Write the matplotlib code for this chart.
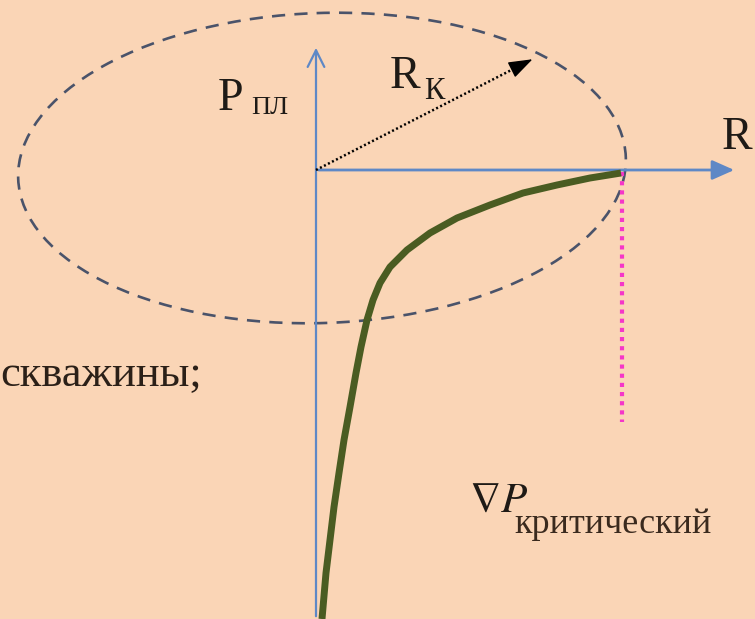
import matplotlib
matplotlib.use("Agg")
import matplotlib.pyplot as plt
from matplotlib.patches import Ellipse, FancyArrowPatch

plt.rcParams["mathtext.fontset"] = "stix"

# picture coordinates (pixels, y grows downward)
origin = (316, 170)
r_axis_end = 737
p_axis_top = 45
p_axis_bottom = 619

ellipse_center = (322, 168)
ellipse_width = 608
ellipse_height = 310

radius_tip = (535, 58)

# pressure curve (depression funnel)
curve_r = [621, 590, 557, 523, 490, 457, 430, 407, 390, 380, 373, 367, 361,
           356, 350, 344, 339, 334, 330, 326, 322]
curve_p = [173, 178, 185, 193, 205, 218, 233, 250, 267, 283, 300, 320, 347,
           373, 407, 440, 473, 507, 540, 573, 619]

crit_r = 622
crit_p = [172, 422]

BG = "#FAD5B6"
AXIS = "#5E88C6"
SERIF = ["Liberation Serif", "DejaVu Serif"]
INK = "#1E1A16"

fig = plt.figure(figsize=(7.55, 6.19), dpi=100)
fig.patch.set_facecolor(BG)
ax = fig.add_axes([0, 0, 1, 1])
ax.set_facecolor(BG)
ax.set_xlim(0, 755)
ax.set_ylim(619, 0)
ax.axis("off")

ax.add_patch(Ellipse(ellipse_center, ellipse_width, ellipse_height, angle=-2,
                     fill=False, edgecolor="#4A536A", lw=1.9, linestyle=(0, (5, 3.5))))

# axes
ax.add_patch(FancyArrowPatch((origin[0], p_axis_bottom), (origin[0], p_axis_top),
                             arrowstyle="->,head_length=8,head_width=4", color=AXIS,
                             lw=1.6, mutation_scale=1.5))
ax.add_patch(FancyArrowPatch(origin, (r_axis_end, origin[1]),
                             arrowstyle="-|>,head_length=9,head_width=4", color=AXIS,
                             lw=2.0, mutation_scale=1.5))

# radius arrow (dotted shaft, small head)
ax.plot([origin[0], radius_tip[0] - 8], [origin[1], radius_tip[1] + 4],
        color="black", lw=1.8, linestyle=(0, (0.8, 1.0)))
ax.add_patch(FancyArrowPatch((radius_tip[0] - 20, radius_tip[1] + 10), radius_tip,
                             arrowstyle="-|>,head_length=10,head_width=3.5",
                             color="black", lw=1.0, mutation_scale=1.5))

ax.plot([crit_r, crit_r], crit_p, color="#F536C8", lw=3, linestyle=(0, (1, 1.2)))
ax.plot(curve_r, curve_p, color="#4A5C22", lw=5, solid_capstyle="butt",
        solid_joinstyle="round")

ax.text(218, 110, "P", fontsize=33, family=SERIF, color=INK)
ax.text(251, 114, "ПЛ", fontsize=19, family=SERIF, color=INK)
ax.text(390, 88, "R", fontsize=33, family=SERIF, color=INK)
ax.text(424, 99, "К", fontsize=22, family=SERIF, color=INK)
ax.text(722, 149, "R", fontsize=33, family=SERIF, color=INK)
ax.text(0, 386, "скважины;", fontsize=32, family=SERIF, color="#2B2018")
ax.text(469, 512, r"$\nabla P$", fontsize=31, color=INK)
ax.text(514, 533, "критический", fontsize=26, family=SERIF, color="#3A2A1E")

fig.savefig("out.png", dpi=100, facecolor=BG)
